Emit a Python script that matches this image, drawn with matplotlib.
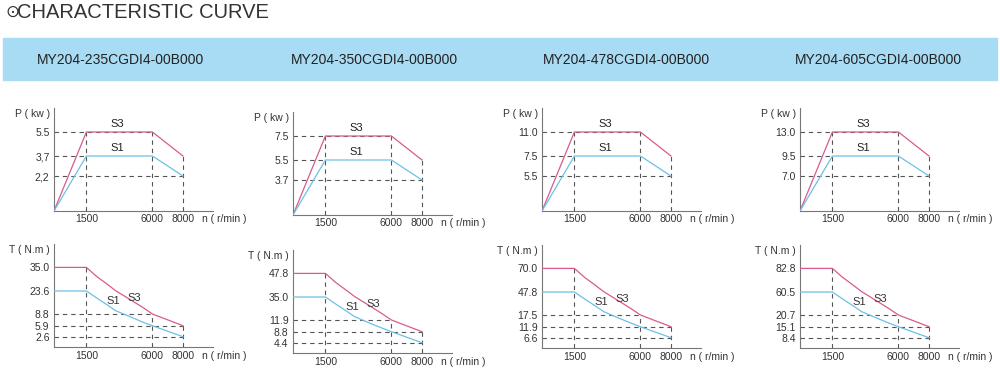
import numpy as np
import matplotlib
matplotlib.use("Agg")
import matplotlib.pyplot as plt
from matplotlib.patches import Rectangle

plt.rcParams['font.family'] = ['Liberation Sans', 'DejaVu Sans']

# ---------------- data ----------------
models = ["MY204-235CGDI4-00B000", "MY204-350CGDI4-00B000",
          "MY204-478CGDI4-00B000", "MY204-605CGDI4-00B000"]

speed = [0, 1500, 6000, 8000]          # r/min
speed_ticks = [1500, 6000, 8000]

# power curves (kW)
p_s3 = [[0, 5.5, 5.5, 3.7], [0, 7.5, 7.5, 5.5], [0, 11.0, 11.0, 7.5], [0, 13.0, 13.0, 9.5]]
p_s1 = [[0, 3.7, 3.7, 2.2], [0, 5.5, 5.5, 3.7], [0, 7.5, 7.5, 5.5], [0, 9.5, 9.5, 7.0]]
p_labels = [["5.5", "3,7", "2,2"], ["7.5", "5.5", "3.7"],
            ["11.0", "7.5", "5.5"], ["13.0", "9.5", "7.0"]]

# torque curves (N.m)
t_speed = [0, 1500, 2200, 2900, 3500, 4500, 5400, 6000, 8000]
t_s3 = [[35.0, 35.0, 30.6, 27.0, 23.7, 18.0, 12.7, 8.8, 5.9],
        [47.8, 47.8, 42.9, 38.8, 35.2, 26.3, 17.9, 11.9, 8.8],
        [70.0, 70.0, 61.5, 54.4, 48.1, 36.3, 25.4, 17.5, 11.9],
        [82.8, 82.8, 74.3, 67.1, 60.8, 45.4, 31.1, 20.7, 15.1]]
t_s1 = [[23.6, 23.6, 19.1, 14.8, 10.9, 8.1, 6.7, 5.9, 2.6],
        [35.0, 35.0, 28.0, 21.2, 15.2, 11.1, 9.7, 8.8, 4.4],
        [47.8, 47.8, 38.6, 29.8, 21.9, 16.1, 13.5, 11.9, 6.6],
        [60.5, 60.5, 48.4, 36.8, 26.4, 19.3, 16.7, 15.1, 8.4]]
t_labels = [["35.0", "23.6", "8.8", "5.9", "2.6"],
            ["47.8", "35.0", "11.9", "8.8", "4.4"],
            ["70.0", "47.8", "17.5", "11.9", "6.6"],
            ["82.8", "60.5", "20.7", "15.1", "8.4"]]

# ---------------- layout (pixels) ----------------
W, H = 1000, 372
col_x = [54, 293, 542, 800]
p_base = [211, 215, 211, 211]
t_base = [347, 353, 348, 348]
AX_W, AX_H = 159, 103

pink = '#d85b8e'
blue = '#6cc0e6'
dash = '#555555'
txt = '#333333'

# schematic (not to scale) axes, as drawn in the catalogue
x_val = [0, 1500, 6000, 8000, 9500]
x_px = [0, 32.4, 98.4, 129, AX_W]
p_px = [0, 35, 55, 79, AX_H]
t_px = [0, 10.3, 21.3, 33, 56, 79.6, AX_H]


def piecewise(vals, pxs):
    vals = np.asarray(vals, float)
    pxs = np.asarray(pxs, float)
    return (lambda v: np.interp(v, vals, pxs), lambda p: np.interp(p, pxs, vals))


fx = piecewise(x_val, x_px)

fig = plt.figure(figsize=(W / 100, H / 100), dpi=100)

# title and band
fig.text(5 / W, 1 - 12 / H, "\u2299", fontsize=12, color=txt, va='center', ha='left',
         family=['DejaVu Sans'])
fig.text(17 / W, 1 - 12 / H, "CHARACTERISTIC CURVE", fontsize=14.5, color=txt,
         va='center', ha='left')
fig.patches.append(Rectangle((3 / W, 1 - 80 / H), 994 / W, 42 / H,
                             transform=fig.transFigure, color='#a8dbf4', zorder=0))
for i, m in enumerate(models):
    fig.text([121, 374, 626, 878][i] / W, 1 - 60 / H, m, fontsize=10, color='#222222',
             ha='center', va='center')


def style_axes(ax, ylabel, tick_pad):
    for s in ['top', 'right']:
        ax.spines[s].set_visible(False)
    for s in ['left', 'bottom']:
        ax.spines[s].set_color('#777777')
        ax.spines[s].set_linewidth(0.8)
    ax.set_xscale('function', functions=fx)
    ax.set_xlim(0, 9500)
    ax.set_xticks(speed_ticks)
    ax.set_xticklabels([str(s) for s in speed_ticks])
    ax.tick_params(length=0, labelsize=7.5, colors=txt)
    ax.tick_params(axis='x', pad=tick_pad)
    ax.tick_params(axis='y', pad=3.2)
    ax.patch.set_alpha(0)
    ax.annotate(ylabel, xy=(0, 1), xycoords='axes fraction', xytext=(-3, -4),
                textcoords='offset points', ha='right', va='center', fontsize=7.5, color=txt)
    ax.annotate("n ( r/min )", xy=(0.93, 0), xycoords='axes fraction',
                xytext=(0, -5.5 - tick_pad + 2), textcoords='offset points',
                ha='left', va='center', fontsize=7.5, color=txt)


dkw = dict(color=dash, lw=0.8, linestyle=(0, (4, 3.5)), zorder=1)

for i in range(4):
    # ---- power ----
    ax = fig.add_axes([col_x[i] / W, 1 - p_base[i] / H, AX_W / W, AX_H / H])
    top, mid, low = p_s3[i][1], p_s1[i][1], p_s1[i][3]
    ymax = top * 1.3
    ax.set_yscale('function', functions=piecewise([0, low, mid, top, ymax], p_px))
    ax.set_ylim(0, ymax)
    style_axes(ax, "P ( kw )", 2.0)
    ax.set_yticks([top, mid, low])
    ax.set_yticklabels(p_labels[i])
    ax.plot([0, 6000], [top, top], **dkw)
    ax.plot([0, 1500], [mid, mid], **dkw)
    ax.plot([0, 8000], [low, low], **dkw)
    ax.plot([1500, 1500], [0, top], **dkw)
    ax.plot([6000, 6000], [0, top], **dkw)
    ax.plot([8000, 8000], [0, p_s3[i][3]], **dkw)
    ax.plot(speed, p_s3[i], color=pink, lw=0.9, zorder=3)
    ax.plot(speed, p_s1[i], color=blue, lw=0.9, zorder=3)
    for lab, yv in [("S3", top), ("S1", mid)]:
        ax.annotate(lab, xy=(0.40, yv), xycoords=('axes fraction', 'data'), xytext=(0, 6),
                    textcoords='offset points', ha='center', va='center', fontsize=8,
                    color='#222222')

    # ---- torque ----
    ax = fig.add_axes([col_x[i] / W, 1 - t_base[i] / H, AX_W / W, AX_H / H])
    s3top, s1top = t_s3[i][0], t_s1[i][0]
    hi, tmid, tlow = t_s3[i][-2], t_s1[i][-2], t_s1[i][-1]
    ymax = s3top * 1.3
    ax.set_yscale('function',
                  functions=piecewise([0, tlow, tmid, hi, s1top, s3top, ymax], t_px))
    ax.set_ylim(0, ymax)
    style_axes(ax, "T ( N.m )", 3.0)
    ax.set_yticks([s3top, s1top, hi, tmid, tlow])
    ax.set_yticklabels(t_labels[i])
    ax.plot([0, 6000], [hi, hi], **dkw)
    ax.plot([0, 8000], [tmid, tmid], **dkw)
    ax.plot([0, 8000], [tlow, tlow], **dkw)
    ax.plot([1500, 1500], [0, s3top], **dkw)
    ax.plot([6000, 6000], [0, hi], **dkw)
    ax.plot([8000, 8000], [0, t_s3[i][-1]], **dkw)
    ax.plot(t_speed, t_s3[i], color=pink, lw=0.9, zorder=3)
    ax.plot(t_speed, t_s1[i], color=blue, lw=0.9, zorder=3)
    ax.text(0.371, 0.443, "S1", transform=ax.transAxes, ha='center', va='center',
            fontsize=8, color=txt)
    ax.text(0.508, 0.476, "S3", transform=ax.transAxes, ha='center', va='center',
            fontsize=8, color=txt)

fig.savefig("out.png", dpi=100)
